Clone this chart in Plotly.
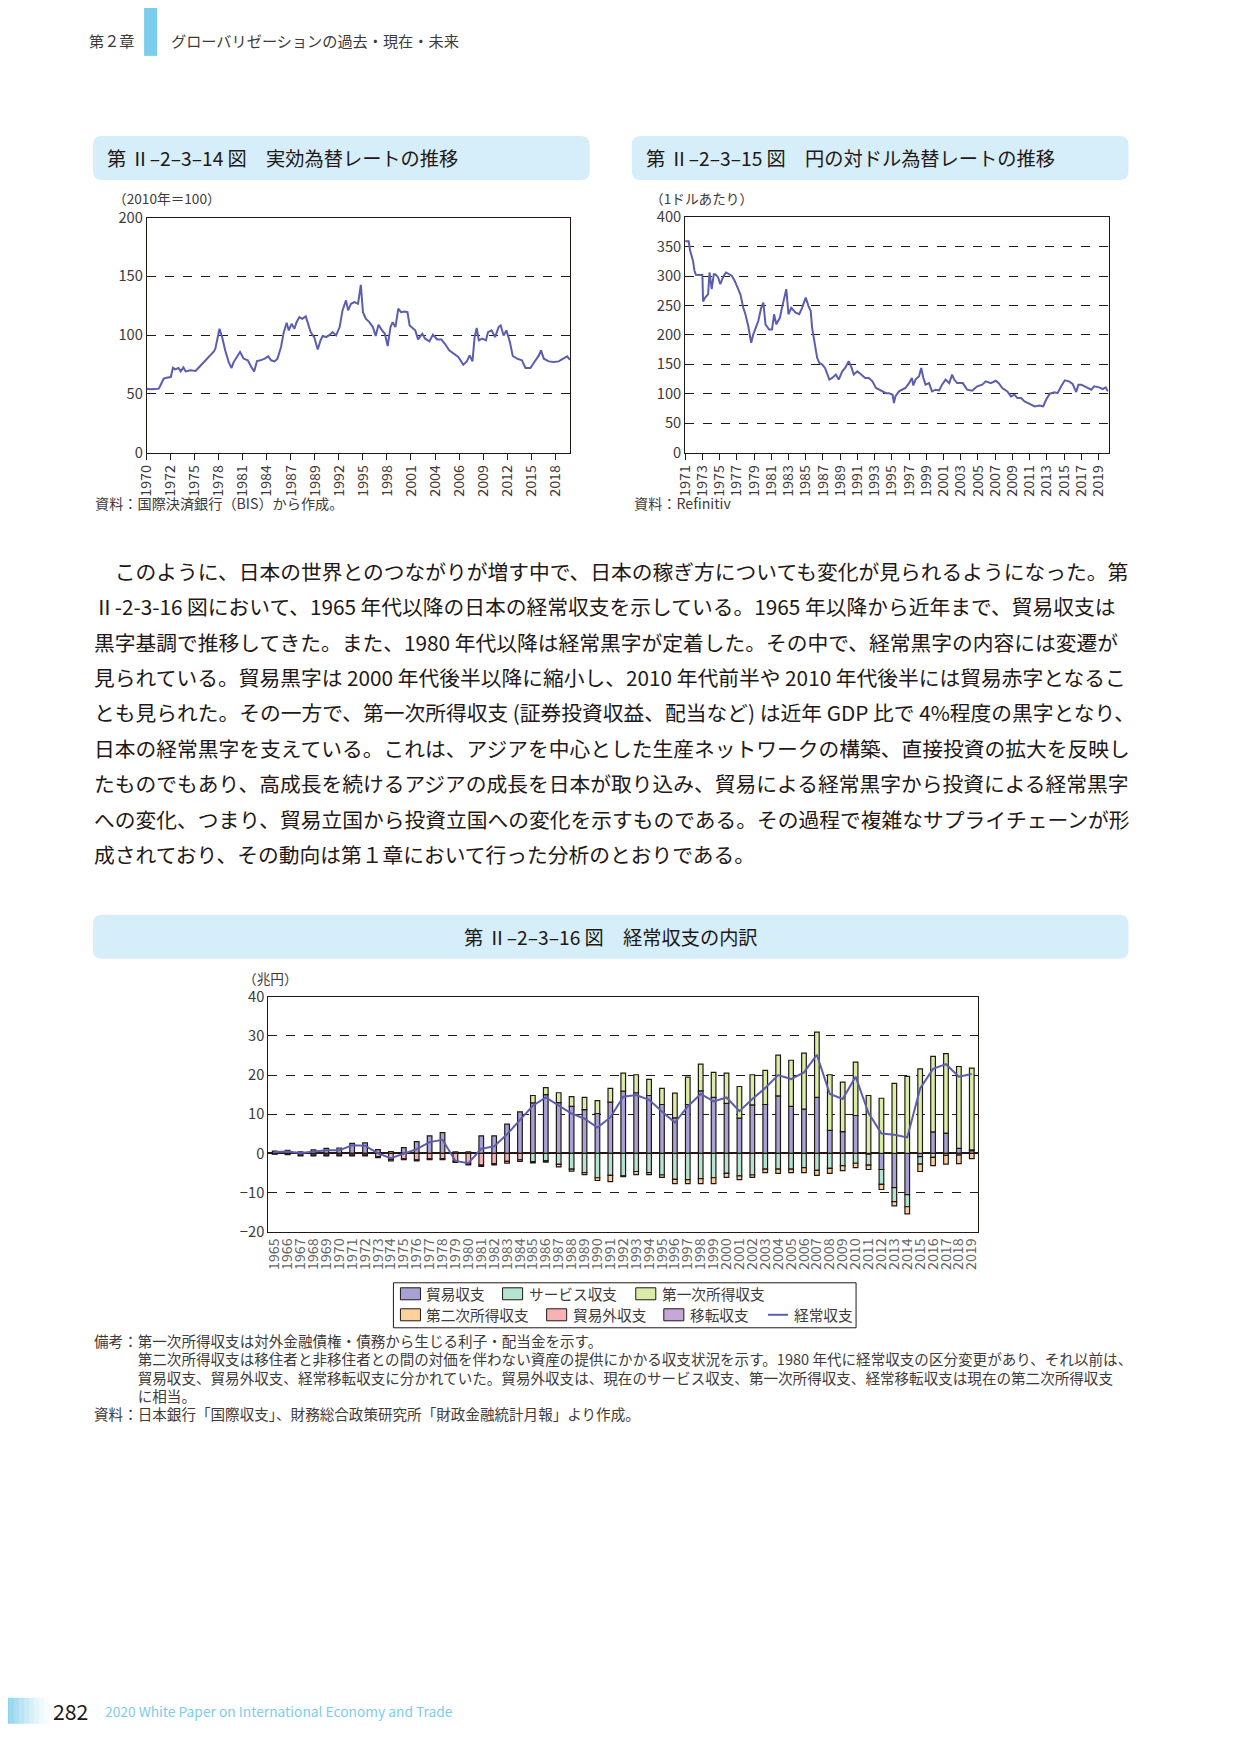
import plotly.graph_objects as go

# ---------------- data: 第Ⅱ-2-3-14図 実効為替レート (2010年=100) ----------------
reer_dates = [
    "1970-01", "1970-06", "1971-01", "1971-06", "1971-08", "1972-01", "1972-05", "1972-11",
    "1973-02", "1973-05", "1973-10", "1974-01", "1974-05", "1974-08", "1975-03", "1975-10",
    "1976-02", "1976-10", "1977-05", "1977-12", "1978-02", "1978-06", "1978-08", "1978-12",
    "1979-04", "1979-09", "1980-01", "1980-04", "1980-09", "1981-01", "1981-06", "1981-12",
    "1982-05", "1982-09", "1983-01", "1983-06", "1983-12", "1984-05", "1984-09", "1985-02",
    "1985-06", "1985-11", "1986-03", "1986-07", "1986-10", "1987-02", "1987-06", "1987-09",
    "1988-01", "1988-05", "1988-10", "1989-01", "1989-05", "1989-10", "1990-03", "1990-07",
    "1990-10", "1991-03", "1991-07", "1991-12", "1992-05", "1992-10", "1993-02", "1993-07",
    "1993-10", "1994-02", "1994-07", "1994-12", "1995-04", "1995-07", "1995-11", "1996-04",
    "1996-09", "1997-01", "1997-05", "1997-10", "1998-02", "1998-06", "1998-10", "1999-01",
    "1999-05", "1999-09", "2000-01", "2000-06", "2000-10", "2001-01", "2001-06", "2001-09",
    "2002-01", "2002-07", "2002-11", "2003-05", "2003-10", "2004-04", "2004-10", "2005-03",
    "2005-09", "2006-03", "2006-10", "2007-05", "2007-10", "2008-02", "2008-06", "2008-09",
    "2008-12", "2009-03", "2009-08", "2010-01", "2010-04", "2010-09", "2011-02", "2011-07",
    "2011-10", "2012-02", "2012-06", "2012-11", "2013-03", "2013-09", "2014-04", "2014-09",
    "2015-04", "2015-08", "2016-04", "2016-07", "2016-11", "2017-06", "2018-01", "2018-08",
    "2019-03", "2019-08", "2019-12",
]
reer_values = [
    54.4, 53.8, 54.0, 54.4, 56.7, 62.9, 63.7, 64.3,
    72.2, 70.8, 72.0, 69.1, 72.5, 69.1, 70.0, 69.4,
    72.0, 77.0, 81.3, 86.1, 88.4, 100.3, 105.4, 97.5,
    87.0, 77.0, 72.0, 77.0, 81.3, 85.6, 80.0, 78.5,
    72.8, 69.1, 77.9, 78.5, 79.9, 81.9, 78.5, 77.6,
    79.9, 89.8, 102.5, 110.5, 104.0, 109.6, 105.4, 111.0,
    115.3, 113.9, 115.9, 109.6, 102.5, 98.3, 87.8, 95.5,
    99.2, 98.3, 99.7, 102.5, 99.7, 106.8, 121.0, 129.5,
    121.0, 126.6, 128.0, 126.6, 142.8, 119.5, 113.9, 111.0,
    106.8, 99.2, 108.8, 104.0, 101.1, 90.7, 106.8, 111.0,
    106.8, 122.4, 119.5, 120.1, 119.5, 108.2, 106.0, 104.0,
    96.3, 101.1, 96.9, 94.6, 100.3, 96.3, 96.3, 92.6,
    87.0, 84.1, 81.3, 74.8, 77.6, 82.7, 77.6, 98.3,
    106.0, 95.5, 96.9, 95.5, 102.5, 104.0, 98.3, 106.8,
    108.2, 99.7, 104.0, 94.0, 82.2, 79.9, 78.5, 72.0,
    72.0, 75.6, 82.7, 87.0, 79.9, 77.6, 77.0, 77.6,
    79.9, 81.9, 79.0,
]
reer_tick_dates = [
    "1970-01-01", "1972-11-01", "1975-09-01", "1978-07-01", "1981-05-01", "1984-03-01",
    "1987-01-01", "1989-11-01", "1992-09-01", "1995-07-01", "1998-05-01", "2001-03-01",
    "2004-01-01", "2006-11-01", "2009-09-01", "2012-07-01", "2015-05-01", "2018-03-01",
]

# ---------------- data: 第Ⅱ-2-3-15図 円の対ドル為替レート ----------------
usdjpy_dates = [
    "1971-01", "1971-06", "1971-08", "1971-12", "1972-02", "1972-04", "1972-10", "1973-01",
    "1973-02", "1973-05", "1973-09", "1973-11", "1974-02", "1974-05", "1974-07", "1974-11",
    "1975-02", "1975-06", "1975-10", "1976-02", "1976-06", "1976-10", "1977-02", "1977-06",
    "1977-10", "1978-01", "1978-05", "1978-09", "1978-12", "1979-03", "1979-07", "1979-11",
    "1980-02", "1980-05", "1980-10", "1981-02", "1981-05", "1981-08", "1982-01", "1982-04",
    "1982-10", "1983-01", "1983-05", "1983-11", "1984-04", "1984-08", "1985-01", "1985-05",
    "1985-08", "1985-10", "1986-02", "1986-05", "1986-08", "1986-12", "1987-04", "1987-07",
    "1987-10", "1988-02", "1988-07", "1988-11", "1989-04", "1989-08", "1990-01", "1990-05",
    "1990-08", "1991-01", "1991-06", "1991-12", "1992-05", "1992-10", "1993-03", "1993-07",
    "1993-12", "1994-05", "1994-09", "1995-02", "1995-04", "1995-06", "1995-11", "1996-04",
    "1996-08", "1997-01", "1997-05", "1997-07", "1997-10", "1998-03", "1998-06", "1998-09",
    "1998-12", "1999-05", "1999-09", "2000-02", "2000-07", "2000-11", "2001-04", "2001-09",
    "2002-01", "2002-04", "2002-08", "2003-04", "2003-10", "2004-05", "2004-12", "2005-07",
    "2005-12", "2006-07", "2007-02", "2007-06", "2007-11", "2008-06", "2008-11", "2009-04",
    "2009-08", "2010-01", "2010-06", "2011-01", "2011-08", "2012-03", "2012-08", "2012-12",
    "2013-05", "2013-12", "2014-04", "2014-09", "2015-02", "2015-08", "2016-01", "2016-06",
    "2016-09", "2017-01", "2017-08", "2018-03", "2018-07", "2019-02", "2019-07", "2019-11",
    "2020-02",
]
usdjpy_values = [
    359, 359, 343, 326, 309, 302, 301.6, 302,
    256.6, 263.4, 269, 306, 277.7, 303, 303, 297.6,
    286, 298.7, 306, 303, 300.5, 292, 280.5, 269,
    246, 235, 215, 186.6, 200.8, 212, 223.6, 246,
    255, 218, 209, 209, 235, 218, 229, 246,
    277.7, 235, 246, 237.8, 235, 246, 263.4, 249,
    240.7, 212, 178, 161, 152.4, 149.5, 143.8, 132.5,
    124, 126.8, 132.5, 124, 138, 143.8, 155, 143.8,
    132.5, 138, 132.5, 126.8, 126.8, 121, 109.7, 106.8,
    104, 101, 101, 98.3, 84, 95.4, 104, 106.8,
    109.7, 118, 126.8, 114, 124, 129.6, 143.8, 126.8,
    115.4, 118, 104, 106.8, 105.7, 115.4, 124, 118,
    132.5, 124, 118, 118, 106.8, 105, 112.5, 115.4,
    121, 118, 122, 118, 109.7, 104, 95.4, 98.3,
    92.6, 92.6, 86.9, 82.9, 78.4, 80, 78.4, 89.7,
    100, 102.3, 101, 112.5, 122.8, 121, 116.5, 102.8,
    115.4, 115.4, 110.8, 106.8, 112.5, 110.8, 108, 110.8,
    104,
]
usdjpy_tick_years = [
    1971, 1973, 1975, 1977, 1979, 1981, 1983, 1985, 1987, 1989, 1991, 1993, 1995,
    1997, 1999, 2001, 2003, 2005, 2007, 2009, 2011, 2013, 2015, 2017, 2019,
]

# ---------------- data: 第Ⅱ-2-3-16図 経常収支の内訳 (兆円) ----------------
ca_years = [str(y) for y in range(1965, 2020)]
trade = [
    0.6, 0.8, 0.4, 0.9, 1.3, 1.4, 2.6, 2.7, 1.0, 0.5,
    1.5, 3.0, 4.5, 5.3, 0.4, 0.4, 4.5, 4.5, 7.5, 10.6,
    12.9, 15.0, 13.0, 12.0, 11.2, 10.2, 13.1, 15.9, 15.5, 14.8,
    12.5, 9.1, 12.5, 16.0, 14.3, 12.8, 9.0, 12.4, 12.5, 14.7,
    12.0, 11.3, 14.3, 5.9, 5.6, 9.7, -0.2, -4.1, -8.7, -10.5,
    -0.8, 5.5, 5.2, 1.3, 0.7,
]
services = [None] * 20 + [
    -2.1, -1.9, -2.8, -4.0, -4.9, -6.2, -5.6, -5.7, -4.6, -4.9,
    -5.5, -6.6, -6.7, -6.4, -6.2, -5.1, -5.7, -5.5, -4.0, -4.0,
    -4.0, -3.6, -4.3, -3.8, -3.1, -2.5, -2.8, -3.8, -3.6, -3.1,
    -1.9, -1.0, -0.5, -0.4, 0.2,
]
primary_income = [None] * 20 + [
    1.9, 1.8, 2.5, 2.5, 3.1, 3.3, 3.5, 4.6, 4.6, 4.1,
    4.1, 6.3, 7.0, 6.8, 6.4, 7.7, 8.1, 7.7, 8.7, 10.4,
    11.8, 14.3, 16.7, 14.2, 12.6, 13.6, 14.8, 14.1, 17.9, 19.7,
    21.6, 19.3, 20.3, 20.9, 20.9,
]
secondary_income = [None] * 20 + [
    -0.3, -0.3, -0.6, -0.5, -0.5, -0.7, -1.6, -0.2, -0.8, -0.5,
    -0.6, -1.1, -1.0, -1.3, -1.5, -1.0, -1.0, -0.6, -0.9, -1.1,
    -0.9, -1.3, -1.3, -1.3, -1.3, -1.1, -1.1, -1.3, -1.1, -1.8,
    -1.9, -2.1, -2.2, -2.2, -1.3,
]
non_trade = [
    -0.1, -0.2, -0.4, -0.4, -0.4, -0.4, -0.4, -0.4, -0.8, -1.5,
    -1.4, -1.6, -1.4, -1.4, -2.0, -2.6, -3.0, -2.6, -2.0, -1.6,
] + [None] * 35
transfers = [
    -0.1, -0.1, -0.2, -0.2, -0.2, -0.2, -0.2, -0.2, -0.3, -0.4,
    -0.2, -0.3, -0.2, -0.2, -0.3, -0.3, -0.3, -0.3, -0.5, -0.4,
] + [None] * 35
current_account = [
    0.4, 0.5, 0.1, 0.4, 0.8, 0.8, 2.1, 2.0, 0.0, -1.2,
    -0.1, 1.1, 2.9, 3.5, -1.9, -2.5, 1.2, 1.8, 4.9, 8.5,
    12.2, 14.3, 12.3, 10.2, 8.9, 6.6, 9.2, 14.5, 14.9, 13.7,
    10.7, 7.9, 12.0, 15.2, 13.3, 14.3, 10.8, 13.9, 16.7, 20.0,
    19.0, 20.7, 25.2, 15.2, 13.9, 19.6, 10.3, 5.1, 4.8, 4.1,
    16.6, 21.6, 22.8, 19.6, 20.3,
]

body_lines = [
    "　このように、日本の世界とのつながりが増す中で、日本の稼ぎ方についても変化が見られるようになった。第",
    "Ⅱ-2-3-16 図において、1965 年代以降の日本の経常収支を示している。1965 年以降から近年まで、貿易収支は",
    "黒字基調で推移してきた。また、1980 年代以降は経常黒字が定着した。その中で、経常黒字の内容には変遷が",
    "見られている。貿易黒字は 2000 年代後半以降に縮小し、2010 年代前半や 2010 年代後半には貿易赤字となるこ",
    "とも見られた。その一方で、第一次所得収支 (証券投資収益、配当など) は近年 GDP 比で 4%程度の黒字となり、",
    "日本の経常黒字を支えている。これは、アジアを中心とした生産ネットワークの構築、直接投資の拡大を反映し",
    "たものでもあり、高成長を続けるアジアの成長を日本が取り込み、貿易による経常黒字から投資による経常黒字",
    "への変化、つまり、貿易立国から投資立国への変化を示すものである。その過程で複雑なサプライチェーンが形",
    "成されており、その動向は第１章において行った分析のとおりである。",
]
note_lines = [
    "備考：第一次所得収支は対外金融債権・債務から生じる利子・配当金を示す。",
    "　　　第二次所得収支は移住者と非移住者との間の対価を伴わない資産の提供にかかる収支状況を示す。1980 年代に経常収支の区分変更があり、それ以前は、",
    "　　　貿易収支、貿易外収支、経常移転収支に分かれていた。貿易外収支は、現在のサービス収支、第一次所得収支、経常移転収支は現在の第二次所得収支",
    "　　　に相当。",
    "資料：日本銀行「国際収支」、財務総合政策研究所「財政金融統計月報」より作成。",
]

# ---------------- page layout (pixels of a 1241 x 1754 page) ----------------
# the page body keeps its default 8px margin, so the figure is 16px smaller;
# SCALE / SHIFT correct the offset measured on a previous rendering
OFF = 8
W, H = 1241 - 2 * OFF, 1754 - 2 * OFF
SCALE, SHIFT = 0.988, 12.2
FONT = "Noto Sans CJK JP"
INK = "#3e3a39"
LINE_BLUE = "#5b5eae"
C_TRADE = "#a7a2d5"
C_SERV = "#b3e4cf"
C_PRIM = "#d8eea8"
C_SEC = "#fcd29c"
C_NONTR = "#f6b2b4"
C_TRANS = "#c6a8d8"


def fs(size):
    return round(size / SCALE, 2)


def px(x):
    return ((x - SHIFT) / SCALE - OFF) / W


def py(y):
    return 1 - ((y - SHIFT) / SCALE - OFF) / H


def merged(*parts, **kw):
    d = {}
    for p in parts:
        d.update(p)
    d.update(kw)
    return d


def rounded_path(x0, y0, x1, y1, r):
    pts = [
        ("M", x0 + r, y0), ("L", x1 - r, y0), ("Q", x1, y0, x1, y0 + r),
        ("L", x1, y1 - r), ("Q", x1, y1, x1 - r, y1), ("L", x0 + r, y1),
        ("Q", x0, y1, x0, y1 - r), ("L", x0, y0 + r), ("Q", x0, y0, x0 + r, y0),
    ]
    out = []
    for p in pts:
        cmd, coords = p[0], p[1:]
        xy = []
        for i in range(0, len(coords), 2):
            xy.append(f"{px(coords[i]):.5f},{py(coords[i + 1]):.5f}")
        out.append(cmd + " " + " ".join(xy))
    return " ".join(out) + " Z"


shapes = []
annotations = []


def text(x, y, s, size, color=INK, anchor="left"):
    annotations.append(dict(
        x=px(x), y=py(y), xref="paper", yref="paper", text=s, showarrow=False,
        xanchor=anchor, yanchor="middle", font=dict(size=fs(size), color=color, family=FONT),
    ))


def rect(x0, y0, x1, y1, fill, line_color=None, lw=0):
    shapes.append(dict(
        type="rect", xref="paper", yref="paper",
        x0=px(x0), x1=px(x1), y0=py(y1), y1=py(y0),
        fillcolor=fill, line=dict(color=line_color or fill, width=lw), layer="above",
    ))


fig = go.Figure()

# chart 1
fig.add_trace(go.Scatter(
    x=reer_dates, y=reer_values, mode="lines", xaxis="x", yaxis="y",
    line=dict(color=LINE_BLUE, width=2), showlegend=False,
))
# chart 2
fig.add_trace(go.Scatter(
    x=usdjpy_dates, y=usdjpy_values, mode="lines", xaxis="x2", yaxis="y2",
    line=dict(color=LINE_BLUE, width=2), showlegend=False,
))
# chart 3
for name, vals, col in [
    ("貿易収支", trade, C_TRADE),
    ("サービス収支", services, C_SERV),
    ("第一次所得収支", primary_income, C_PRIM),
    ("第二次所得収支", secondary_income, C_SEC),
    ("貿易外収支", non_trade, C_NONTR),
    ("移転収支", transfers, C_TRANS),
]:
    fig.add_trace(go.Bar(
        x=ca_years, y=vals, name=name, xaxis="x3", yaxis="y3",
        marker=dict(color=col, line=dict(color="#231815", width=1.2)),
        width=0.36, showlegend=False,
    ))
fig.add_trace(go.Scatter(
    x=ca_years, y=current_account, mode="lines", name="経常収支", xaxis="x3", yaxis="y3",
    line=dict(color=LINE_BLUE, width=2), showlegend=False,
))

axis_common = dict(
    showline=True, linecolor="#231815", linewidth=1, mirror=True,
    tickfont=dict(size=fs(14), color=INK, family=FONT), zeroline=False,
)
grid_y = dict(showgrid=True, gridcolor="#231815", gridwidth=1, griddash="dash")

# header
rect(145, 0, 158, 56, "#7ccdec")
text(88, 40, "第２章", 15, "#3e3a39")
text(170, 40, "グローバリゼーションの過去・現在・未来", 15, "#3e3a39")

# chart title boxes
for x0, x1 in [(94, 590), (632, 1128)]:
    shapes.append(dict(type="path", xref="paper", yref="paper",
                       path=rounded_path(x0, 136, x1, 180, 9),
                       fillcolor="#d5eef9", line=dict(width=0), layer="below"))
shapes.append(dict(type="path", xref="paper", yref="paper",
                   path=rounded_path(94, 915, 1128, 959, 9),
                   fillcolor="#d5eef9", line=dict(width=0), layer="below"))
text(106, 158, "第 Ⅱ–2–3–14 図　実効為替レートの推移", 19, "#231815")
text(644, 158, "第 Ⅱ–2–3–15 図　円の対ドル為替レートの推移", 19, "#231815")
text(611, 937, "第 Ⅱ–2–3–16 図　経常収支の内訳", 19, "#231815", anchor="center")

# chart captions
text(112, 198, "（2010年＝100）", 13.5)
text(648, 198, "（1ドルあたり）", 13.5)
text(94, 503, "資料：国際決済銀行（BIS）から作成。", 14)
text(632, 503, "資料：Refinitiv", 14)
text(242, 978, "（兆円）", 13.5)

# body text
for i, line in enumerate(body_lines):
    text(93, 571 + i * 35.4, line, 20.5, "#231815")

# legend of chart 3
rect(394, 1283, 856, 1328, "rgba(0,0,0,0)", "#231815", 1)
legend_items = [
    (401, 1294, "貿易収支", C_TRADE), (503, 1294, "サービス収支", C_SERV),
    (636, 1294, "第一次所得収支", C_PRIM), (401, 1315, "第二次所得収支", C_SEC),
    (547, 1315, "貿易外収支", C_NONTR), (664, 1315, "移転収支", C_TRANS),
]
for lx, ly, lab, col in legend_items:
    rect(lx, ly - 6, lx + 20, ly + 6, col, "#231815", 1)
    text(lx + 24, ly, lab, 14.5)
shapes.append(dict(type="line", xref="paper", yref="paper", x0=px(768), x1=px(788),
                   y0=py(1315), y1=py(1315), line=dict(color=LINE_BLUE, width=2)))
text(792, 1315, "経常収支", 14.5)

# notes
for i, line in enumerate(note_lines):
    text(93, 1341 + i * 18.2, line, 14.4)

# footer
foot = ["#7ccdec", "#8bd3ee", "#9bd9f0", "#aadff2", "#b9e5f4", "#c8ebf6",
        "#d6f0f8", "#e3f5fa", "#eef9fc", "#f7fcfe", "#ffffff"]
for i, c in enumerate(foot):
    rect(i * 5, 1698, i * 5 + 5.5, 1724, c)
text(52, 1711, "282", 21, "#231815")
text(104, 1711, "2020 White Paper on International Economy and Trade", 13.6, "#7ccdec")

fig.update_layout(
    width=W, height=H, autosize=False,
    margin=dict(l=0, r=0, t=0, b=0),
    paper_bgcolor="white", plot_bgcolor="white",
    font=dict(family=FONT, color=INK),
    barmode="relative", bargap=0.6,
    shapes=shapes, annotations=annotations,
    xaxis=merged(
        axis_common, domain=[px(147.7), px(570.3)], anchor="y", type="date",
        range=["1970-01-01", "2019-12-01"], tickvals=reer_tick_dates,
        ticktext=[d[:4] for d in reer_tick_dates], tickangle=-90,
        ticks="outside", ticklen=6, tickcolor="#231815", showgrid=False,
    ),
    yaxis=merged(
        axis_common, grid_y, domain=[py(452.7), py(217.7)], anchor="x",
        range=[0, 200], dtick=50, tickfont=dict(size=fs(14.5), color=INK, family=FONT),
    ),
    xaxis2=merged(
        axis_common, domain=[px(685.3), px(1108.3)], anchor="y2", type="date",
        range=["1971-01-01", "2020-03-10"],
        tickvals=[f"{y}-01-01" for y in usdjpy_tick_years],
        ticktext=[str(y) for y in usdjpy_tick_years], tickangle=-90,
        ticks="outside", ticklen=6, tickcolor="#231815", showgrid=False,
    ),
    yaxis2=merged(
        axis_common, grid_y, domain=[py(452.7), py(217.3)], anchor="x2",
        range=[0, 400], dtick=50, tickfont=dict(size=fs(14.5), color=INK, family=FONT),
    ),
    xaxis3=merged(
        axis_common, domain=[px(269), px(978)], anchor="y3", type="category",
        range=[-0.5, 54.5], tickangle=-90, showgrid=False,
        tickmode="array", tickvals=ca_years, ticktext=ca_years,
        tickfont=dict(size=fs(14), color="#666666", family=FONT),
    ),
    yaxis3=merged(
        axis_common, grid_y, domain=[py(1232), py(997)], anchor="x3",
        range=[-20, 40], dtick=10, zeroline=True, zerolinecolor="#231815",
        zerolinewidth=1.5, tickfont=dict(size=fs(14.5), color=INK, family=FONT),
    ),
)

fig.write_html("out.html", config={"displayModeBar": False})
